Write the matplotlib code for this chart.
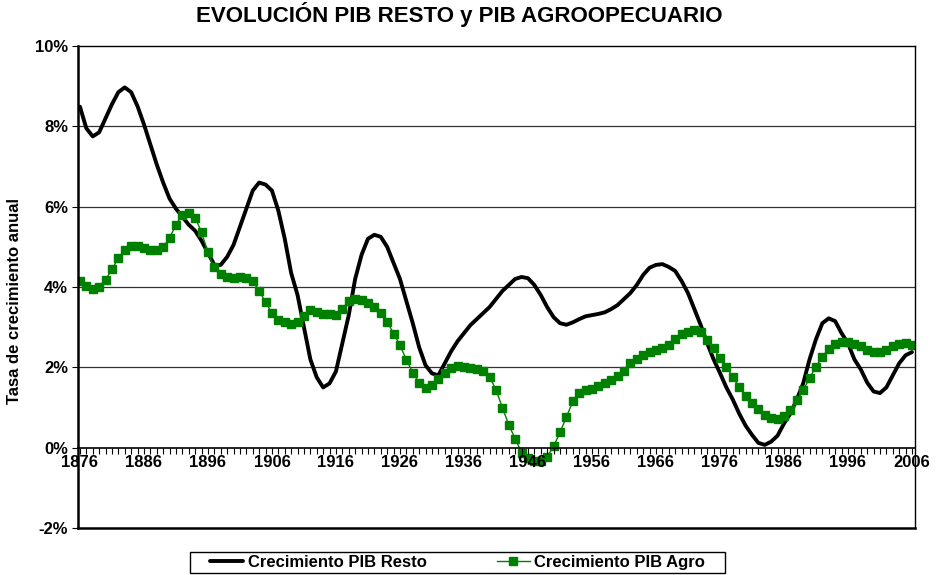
import numpy as np
import matplotlib
matplotlib.use('Agg')
import matplotlib.pyplot as plt
from matplotlib.patches import Rectangle
from matplotlib.ticker import FixedLocator, MultipleLocator, FuncFormatter

plt.rcParams['font.family'] = ['Liberation Sans', 'DejaVu Sans']
plt.rcParams['font.weight'] = 'bold'

# ===== datos (tasa de crecimiento anual, %) =====
years = list(range(1876, 2007))

pib_resto = [
    8.49, 7.95, 7.75, 7.85, 8.20, 8.55, 8.85, 8.97, 8.85, 8.50,   # 1876-1885
    8.05, 7.55, 7.05, 6.60, 6.20, 5.95, 5.75, 5.55, 5.40, 5.15,   # 1886-1895
    4.85, 4.55, 4.55, 4.75, 5.05, 5.50, 5.95, 6.40, 6.60, 6.55,   # 1896-1905
    6.40, 5.90, 5.20, 4.35, 3.80, 3.00, 2.20, 1.75, 1.50, 1.60,   # 1906-1915
    1.90, 2.60, 3.30, 4.20, 4.80, 5.20, 5.30, 5.25, 5.00, 4.60,   # 1916-1925
    4.20, 3.65, 3.10, 2.50, 2.05, 1.85, 1.80, 2.10, 2.40, 2.65,   # 1926-1935
    2.85, 3.05, 3.20, 3.35, 3.50, 3.70, 3.90, 4.05, 4.20, 4.25,   # 1936-1945
    4.22, 4.05, 3.80, 3.50, 3.25, 3.10, 3.06, 3.12, 3.20, 3.27,   # 1946-1955
    3.30, 3.33, 3.37, 3.45, 3.55, 3.70, 3.85, 4.05, 4.30, 4.48,   # 1956-1965
    4.55, 4.57, 4.50, 4.40, 4.15, 3.85, 3.45, 3.05, 2.60, 2.20,   # 1966-1975
    1.86, 1.50, 1.20, 0.85, 0.55, 0.32, 0.12, 0.07, 0.15, 0.30,   # 1976-1985
    0.60, 0.85, 1.20, 1.60, 2.20, 2.70, 3.10, 3.22, 3.15, 2.85,   # 1986-1995
    2.60, 2.20, 1.95, 1.62, 1.40, 1.36, 1.50, 1.80, 2.10, 2.30,   # 1996-2005
    2.38,                                                         # 2006
]

pib_agro = [
    4.15, 4.03, 3.95, 4.01, 4.18, 4.44, 4.72, 4.91, 5.01, 5.02,   # 1876-1885
    4.97, 4.91, 4.91, 4.99, 5.22, 5.55, 5.80, 5.84, 5.73, 5.36,   # 1886-1895
    4.86, 4.49, 4.33, 4.26, 4.22, 4.25, 4.22, 4.14, 3.91, 3.62,   # 1896-1905
    3.35, 3.18, 3.12, 3.08, 3.14, 3.27, 3.42, 3.37, 3.33, 3.32,   # 1906-1915
    3.31, 3.45, 3.66, 3.71, 3.68, 3.61, 3.50, 3.35, 3.14, 2.84,   # 1916-1925
    2.55, 2.19, 1.87, 1.62, 1.48, 1.57, 1.71, 1.86, 1.98, 2.04,   # 1926-1935
    2.01, 1.98, 1.96, 1.92, 1.77, 1.44, 1.00, 0.57, 0.22, -0.12,  # 1936-1945
    -0.26, -0.34, -0.34, -0.22, 0.03, 0.38, 0.76, 1.15, 1.36, 1.43,  # 1946-1955
    1.46, 1.53, 1.61, 1.69, 1.79, 1.92, 2.10, 2.21, 2.30, 2.37,   # 1956-1965
    2.42, 2.48, 2.56, 2.70, 2.84, 2.89, 2.92, 2.87, 2.69, 2.48,   # 1966-1975
    2.23, 2.01, 1.76, 1.51, 1.29, 1.11, 0.96, 0.82, 0.74, 0.71,   # 1976-1985
    0.80, 0.95, 1.18, 1.43, 1.73, 2.02, 2.27, 2.46, 2.59, 2.64,   # 1986-1995
    2.63, 2.59, 2.52, 2.44, 2.37, 2.37, 2.42, 2.52, 2.59, 2.60,   # 1996-2005
    2.56,                                                         # 2006
]

year_labels = list(range(1876, 2007, 10))
y_ticks = [-2, 0, 2, 4, 6, 8, 10]


fig = plt.figure(figsize=(9.37, 5.75), dpi=100)
ax = fig.add_axes([0.0832, 0.0817, 0.8933, 0.8383])

# grid horizontal
for yv in [2, 4, 6, 8]:
    ax.axhline(yv, color='#333333', lw=0.9, zorder=1)

ax.plot(years, pib_resto, color='black', lw=2.8, zorder=2.2,
        label='Crecimiento PIB Resto', solid_capstyle='round')
ax.plot(years, pib_agro, color='#008000', lw=1.0, marker='s', markersize=5.5,
        markeredgecolor='#008000', zorder=2.3, label='Crecimiento PIB Agro')

ax.set_xlim(1875.69, 2006.47)
ax.set_ylim(-2, 10)

# eje de categorias cruzando en 0%
ax.spines['bottom'].set_position(('data', 0))
ax.spines['bottom'].set_linewidth(1.2)
ax.spines['left'].set_linewidth(1.8)
ax.spines['top'].set_linewidth(1.0)
ax.spines['right'].set_linewidth(1.0)
ax.axhline(-2, color='black', lw=1.8, zorder=2, clip_on=False)

ax.xaxis.set_major_locator(FixedLocator(year_labels))
ax.xaxis.set_minor_locator(MultipleLocator(1))
ax.tick_params(axis='x', which='both', direction='out', length=4, width=0.8,
               labelsize=12, pad=1)
for lab in ax.get_xticklabels():
    lab.set_fontweight('bold')
ax.xaxis.set_zorder(5)   # etiquetas de años por encima de los marcadores

ax.yaxis.set_major_locator(FixedLocator(y_ticks))
ax.yaxis.set_major_formatter(FuncFormatter(lambda v, p: '%d%%' % v))
ax.tick_params(axis='y', direction='out', length=4, width=0.8, labelsize=12, pad=3)
for lab in ax.get_yticklabels():
    lab.set_fontweight('bold')

fig.text(0.0155, 0.4765, 'Tasa de crecimiento anual', rotation=90,
         fontsize=12, fontweight='bold', ha='center', va='center')

fig.text(0.49, 0.974, 'EVOLUCIÓN PIB RESTO y PIB AGROOPECUARIO', fontsize=16,
         fontweight='bold', ha='center', va='center')

# leyenda: caja dibujada aparte
fig.patches.append(Rectangle((0.2028, 0.0035), 0.571, 0.0365,
                             transform=fig.transFigure, fill=False,
                             edgecolor='black', lw=1.0))
leg = fig.legend(loc='center', bbox_to_anchor=(0.4883, 0.0217), ncol=2,
                 fontsize=12, frameon=False, handlelength=2.0,
                 columnspacing=4.2, handletextpad=0.25, borderpad=0)
for t in leg.get_texts():
    t.set_fontweight('bold')

fig.savefig('out.png', dpi=100)
